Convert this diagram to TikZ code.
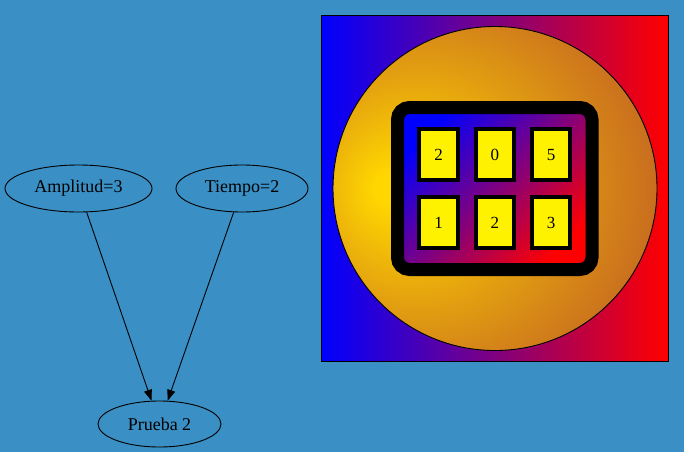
\documentclass[tikz,border=0pt]{standalone}
\usepackage{fontspec}
\setmainfont{Liberation Serif}
\usetikzlibrary{shapes.geometric,arrows.meta}
\definecolor{bgblue}{RGB}{58,143,196}
\definecolor{gvgold}{RGB}{255,215,0}
\definecolor{gvchoc}{RGB}{195,98,34}
\pgfdeclareradialshading{sunshade}{\pgfpoint{-17bp}{0bp}}{color(0bp)=(gvgold); color(2bp)=(gvgold); color(36bp)=(gvchoc); color(60bp)=(gvchoc)}
\tikzset{
  gvnode/.style={ellipse, draw=black, line width=0.9pt, inner sep=0pt, font=\fontsize{18}{20}\selectfont},
  gvedge/.style={draw=black, line width=0.9pt, -{Triangle[length=11pt,width=8pt]}},
  cellbox/.style={rectangle, draw=black, line width=4pt, fill=yellow, minimum width=38.5pt, minimum height=50.5pt, inner sep=0pt, font=\fontsize{17}{19}\selectfont}
}
\begin{document}
\begin{tikzpicture}[x=1pt,y=-1pt]
\fill[bgblue] (0,0) rectangle (684,452);
\useasboundingbox (0,0) rectangle (684,452);
% left graph
\node[gvnode, minimum width=147pt, minimum height=47pt] (amp) at (78.5,188.5) {Amplitud=3};
\node[gvnode, minimum width=132pt, minimum height=47pt] (tie) at (242,188.5) {Tiempo=2};
\node[gvnode, minimum width=123pt, minimum height=46pt] (pru) at (159.5,424) {Prueba 2};
\draw[gvedge] (amp) -- (pru);
\draw[gvedge] (tie) -- (pru);
% right picture
\path[draw=black, line width=1pt, left color=blue, right color=red] (321,16) rectangle (668,361);
\path[draw=black, line width=0.9pt, shading=sunshade] (495,188.5) circle[radius=162];
\path[draw=black, line width=13pt, rounded corners=12pt, top color=blue, bottom color=red, shading angle=45] (397.5,107.5) rectangle (592,269.5);
\node[cellbox] (c1) at (438.7,154.7) {2};
\node[cellbox] (c2) at (494.8,154.7) {0};
\node[cellbox] (c3) at (551,154.7) {5};
\node[cellbox] (c4) at (438.7,222.7) {1};
\node[cellbox] (c5) at (494.8,222.7) {2};
\node[cellbox] (c6) at (551,222.7) {3};
\end{tikzpicture}
\end{document}
